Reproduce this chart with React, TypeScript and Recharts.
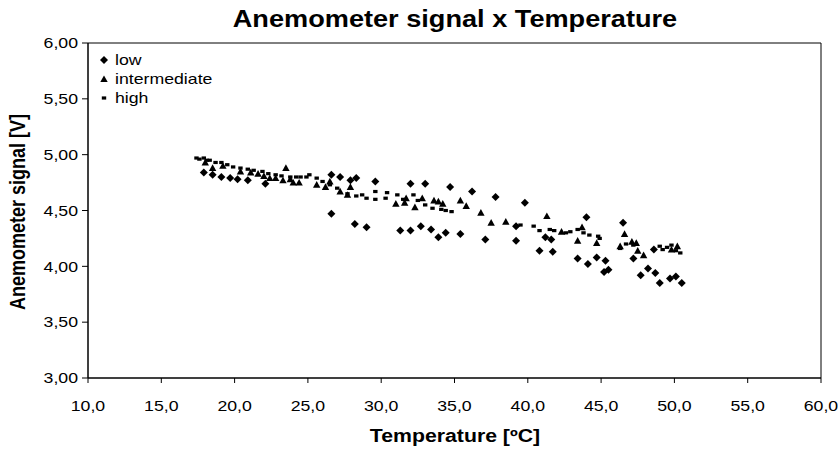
import React from 'react';
import { ScatterChart, Scatter, XAxis, YAxis, ReferenceArea } from 'recharts';

const xTicks = [10, 15, 20, 25, 30, 35, 40, 45, 50, 55, 60];
const yTicks = [3, 3.5, 4, 4.5, 5, 5.5, 6];

const lowPoints: [number, number][] = [
  [17.9, 4.84], [18.5, 4.82], [19.1, 4.8], [19.7, 4.79], [20.2, 4.78], [20.9, 4.77], [22.1, 4.74],
  [26.6, 4.82], [27.2, 4.8], [27.9, 4.77], [28.3, 4.79], [29.6, 4.76], [32.0, 4.74], [33.0, 4.74],
  [34.7, 4.71], [36.2, 4.67], [37.8, 4.62], [39.8, 4.57], [26.6, 4.47], [28.2, 4.38], [29.0, 4.35],
  [31.3, 4.32], [32.0, 4.32], [32.7, 4.36], [33.4, 4.33], [33.9, 4.26], [34.4, 4.3], [35.4, 4.29],
  [37.1, 4.24], [39.2, 4.23], [39.2, 4.36], [40.8, 4.14], [41.7, 4.13], [41.2, 4.26], [41.6, 4.24],
  [44.0, 4.44], [43.4, 4.07], [44.1, 4.02], [44.7, 4.08], [45.3, 4.05], [45.2, 3.95], [45.5, 3.97],
  [46.5, 4.39], [47.2, 4.07], [47.7, 3.92], [48.2, 3.98], [48.7, 3.94], [49.0, 3.85], [49.7, 3.89],
  [50.1, 3.91], [50.5, 3.85], [48.6, 4.15],
];

const intermediatePoints: [number, number][] = [
  [18.0, 4.93], [18.5, 4.88], [19.2, 4.9], [20.4, 4.85], [21.1, 4.84], [21.6, 4.83], [22.0, 4.81],
  [22.4, 4.79], [22.8, 4.79], [23.3, 4.77], [23.5, 4.88], [23.8, 4.78], [24.0, 4.75], [24.4, 4.75],
  [25.6, 4.73], [26.2, 4.71], [26.5, 4.76], [27.2, 4.67], [27.9, 4.71], [27.7, 4.64], [31.0, 4.56],
  [31.6, 4.57], [31.7, 4.61], [32.3, 4.53], [32.8, 4.61], [33.6, 4.59], [33.9, 4.58], [34.2, 4.56],
  [35.4, 4.59], [35.8, 4.54], [36.8, 4.48], [37.5, 4.39], [38.5, 4.4], [41.3, 4.45], [42.3, 4.31],
  [43.4, 4.23], [43.7, 4.35], [44.7, 4.21], [46.3, 4.18], [46.6, 4.29], [47.1, 4.22], [47.4, 4.21],
  [47.5, 4.14], [47.9, 4.1], [49.8, 4.15], [50.2, 4.18],
];

const highPoints: [number, number][] = [
  [17.4, 4.97], [17.6, 4.96], [17.9, 4.97], [18.1, 4.95], [18.3, 4.95], [18.7, 4.93], [19.1, 4.93],
  [19.5, 4.91], [19.9, 4.89], [20.4, 4.88], [20.9, 4.87], [21.3, 4.86], [21.9, 4.85], [22.3, 4.83],
  [22.8, 4.82], [23.2, 4.81], [23.8, 4.8], [24.2, 4.8], [24.5, 4.8], [24.9, 4.8], [25.1, 4.82],
  [25.6, 4.79], [26.0, 4.76], [26.5, 4.73], [27.0, 4.7], [27.7, 4.65], [28.3, 4.63], [28.7, 4.64],
  [29.0, 4.61], [29.6, 4.6], [29.6, 4.67], [30.3, 4.61], [30.4, 4.66], [31.1, 4.64], [31.5, 4.6],
  [32.2, 4.64], [32.5, 4.59], [33.0, 4.55], [33.5, 4.52], [34.1, 4.51], [34.4, 4.5], [34.8, 4.49],
  [39.2, 4.36], [39.5, 4.37], [40.4, 4.36], [40.8, 4.32], [41.5, 4.33], [41.8, 4.32], [42.6, 4.3],
  [42.9, 4.31], [43.4, 4.33], [43.8, 4.3], [44.2, 4.28], [44.8, 4.27], [44.9, 4.25], [46.3, 4.16],
  [46.7, 4.2], [47.2, 4.19], [49.0, 4.18], [49.2, 4.15], [49.5, 4.17], [49.8, 4.19], [50.1, 4.14],
  [50.4, 4.12],
];

const toObjs = (pts: [number, number][]) => pts.map(([x, y]) => ({ x, y }));
const lowData = toObjs(lowPoints);
const intermediateData = toObjs(intermediatePoints);
const highData = toObjs(highPoints);

const FONT = '"Liberation Sans", Arial, sans-serif';
const STRETCH = 1.18;

const Diamond = (p: any) => {
  const { cx, cy } = p;
  if (cx == null || cy == null) return null;
  return <path d={`M${cx},${cy - 4} L${cx + 4},${cy} L${cx},${cy + 4} L${cx - 4},${cy} Z`} fill="#000" />;
};
const Triangle = (p: any) => {
  const { cx, cy } = p;
  if (cx == null || cy == null) return null;
  return <path d={`M${cx},${cy - 3.7} L${cx + 3.7},${cy + 3} L${cx - 3.7},${cy + 3} Z`} fill="#000" />;
};
const Square = (p: any) => {
  const { cx, cy } = p;
  if (cx == null || cy == null) return null;
  return <rect x={cx - 2.2} y={cy - 1.6} width={4.4} height={3.2} fill="#000" />;
};

const fmtX = (v: number) => v.toFixed(1).replace('.', ',');
const fmtY = (v: number) => v.toFixed(2).replace('.', ',');

const XTick = (p: any) => {
  const { x, y, payload } = p;
  return (
    <g transform={`translate(${x},${y}) scale(${STRETCH},1)`}>
      <text x={0} y={0} dy="0.71em" textAnchor="middle" fill="#000" fontSize={15} fontFamily={FONT}>
        {fmtX(payload.value)}
      </text>
    </g>
  );
};
const YTick = (p: any) => {
  const { x, y, payload } = p;
  return (
    <g transform={`translate(${x},${y}) scale(${STRETCH},1)`}>
      <text x={0} y={0} dy="0.355em" textAnchor="end" fill="#000" fontSize={15} fontFamily={FONT}>
        {fmtY(payload.value)}
      </text>
    </g>
  );
};

const legendItems = [
  { name: 'low', icon: 'M6,2 L10,6 L6,10 L2,6 Z' },
  { name: 'intermediate', icon: 'M6,2.5 L9.7,9 L2.3,9 Z' },
  { name: 'high', icon: 'M3.8,4.4 L8.2,4.4 L8.2,7.6 L3.8,7.6 Z' },
];

export default function App() {
  return (
    <div style={{ position: 'absolute', left: 0, top: 0, width: 838, height: 451, background: '#fff', fontFamily: FONT, color: '#000' }}>
      <ScatterChart width={838} height={451} margin={{ top: 43, right: 17, bottom: 5, left: 0 }}>
        <XAxis
          type="number"
          dataKey="x"
          domain={[10, 60]}
          ticks={xTicks}
          interval={0}
          height={68}
          tickSize={5}
          tickMargin={17}
          axisLine={{ stroke: '#000' }}
          tickLine={{ stroke: '#000' }}
          tick={<XTick />}
        />
        <YAxis
          type="number"
          dataKey="y"
          domain={[3, 6]}
          ticks={yTicks}
          interval={0}
          width={88}
          tickSize={6}
          tickMargin={4}
          axisLine={{ stroke: '#000' }}
          tickLine={{ stroke: '#000' }}
          tick={<YTick />}
        />
        <ReferenceArea x1={10} x2={60} y1={3} y2={6} fill="none" stroke="#000" strokeWidth={1} />
        <Scatter name="high" data={highData} shape={Square} isAnimationActive={false} />
        <Scatter name="intermediate" data={intermediateData} shape={Triangle} isAnimationActive={false} />
        <Scatter name="low" data={lowData} shape={Diamond} isAnimationActive={false} />
      </ScatterChart>
      <div
        style={{
          position: 'absolute',
          left: 0,
          width: 910,
          top: 6,
          textAlign: 'center',
          fontWeight: 'bold',
          fontSize: 23,
          lineHeight: '26px',
          transform: `scaleX(${STRETCH})`,
          transformOrigin: '455px 13px',
        }}
      >
        Anemometer signal x Temperature
      </div>
      <div
        style={{
          position: 'absolute',
          left: 0,
          width: 910,
          top: 425,
          textAlign: 'center',
          fontWeight: 'bold',
          fontSize: 18,
          lineHeight: '22px',
          transform: `scaleX(${STRETCH})`,
          transformOrigin: '455px 11px',
        }}
      >
        Temperature [ºC]
      </div>
      <div
        style={{
          position: 'absolute',
          left: 18,
          top: 212,
          fontWeight: 'bold',
          fontSize: 18,
          lineHeight: '22px',
          whiteSpace: 'nowrap',
          transform: `translate(-50%,-50%) rotate(-90deg) scaleY(${STRETCH})`,
        }}
      >
        Anemometer signal [V]
      </div>
      <div style={{ position: 'absolute', left: 98, top: 50, fontSize: 15, lineHeight: '19px' }}>
        {legendItems.map((it) => (
          <div key={it.name} style={{ display: 'flex', alignItems: 'center', height: 19 }}>
            <svg width={12} height={12} style={{ marginRight: 5 }}>
              <path d={it.icon} fill="#000" />
            </svg>
            <span style={{ display: 'inline-block', transform: `scaleX(${STRETCH})`, transformOrigin: '0 50%' }}>{it.name}</span>
          </div>
        ))}
      </div>
    </div>
  );
}
